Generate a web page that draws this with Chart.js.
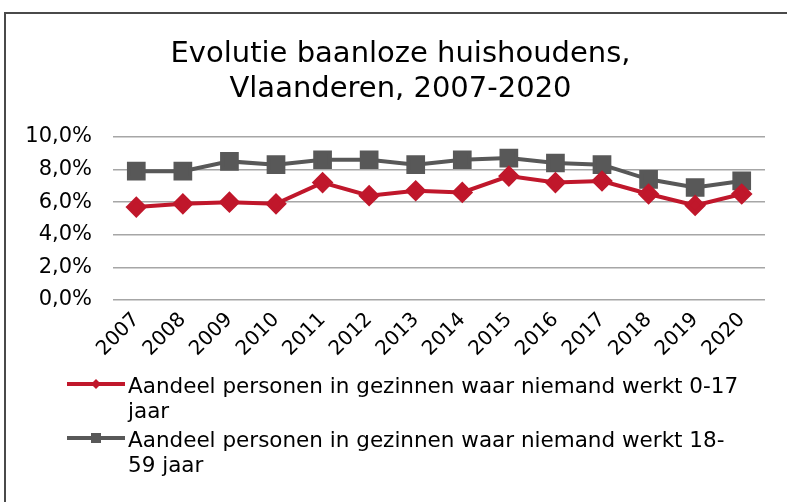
<!DOCTYPE html>
<html>
<head>
<meta charset="utf-8">
<script src="https://cdn.jsdelivr.net/npm/chart.js@4.4.1/dist/chart.umd.min.js"></script>
<style>
  body { margin: 0; background: #fff; }
  #wrap { position: relative; width: 787px; height: 502px; overflow: hidden; }
  #frame { position: absolute; left: 4px; top: 12px; width: 800px; height: 500px;
           border-top: 2px solid #4a4a4a; border-left: 2px solid #4a4a4a; box-sizing: border-box; }
  canvas { position: absolute; left: 0; top: 0; }
  .leg { position: absolute; left: 66px; font-family: "DejaVu Sans", sans-serif;
         font-size: 21.5px; color: #000; line-height: 25px; }
  .leg .txt { position: absolute; left: 62px; top: 0; width: 680px; white-space: nowrap; }
  .leg svg { position: absolute; left: 0; top: 4px; }
</style>
</head>
<body>
<div id="wrap">
  <div id="frame"></div>
  <canvas id="myLineChart" width="787" height="502"></canvas>
  <div class="leg" id="leg1" style="top:373px"></div>
  <div class="leg" id="leg2" style="top:427px"></div>
</div>
<script>
// jaartallen
const jaren = ['2007','2008','2009','2010','2011','2012','2013','2014','2015','2016','2017','2018','2019','2020'];
// 0-17 jaar
const jongeren = [5.7, 5.9, 6.0, 5.9, 7.2, 6.4, 6.7, 6.6, 7.6, 7.2, 7.3, 6.5, 5.8, 6.5];
// 18-59 jaar
const volwassenen = [7.9, 7.9, 8.5, 8.3, 8.6, 8.6, 8.3, 8.6, 8.7, 8.4, 8.3, 7.4, 6.9, 7.3];
// reeksnamen, afgebroken zoals in het origineel
const reeksNamen = [['Aandeel personen in gezinnen waar niemand werkt 0-17', 'jaar'],
                    ['Aandeel personen in gezinnen waar niemand werkt 18-', '59 jaar']];
const titel = ['Evolutie baanloze huishoudens,', 'Vlaanderen, 2007-2020'];

const rood = '#c0172b';
const grijs = '#585858';

// legende in HTML (tekst loopt over twee regels)
function maakLegende(id, naam, kleur, vorm) {
  const el = document.getElementById(id);
  const marker = vorm === 'diamond'
    ? '<polygon points="30,2 35,7 30,12 25,7" fill="' + kleur + '"/>'
    : '<rect x="25" y="2" width="10" height="10" fill="' + kleur + '"/>';
  el.innerHTML = '<svg width="60" height="14"><line x1="1" y1="7" x2="59" y2="7" stroke="' + kleur +
    '" stroke-width="4"/>' + marker + '</svg><div class="txt">' + naam.join('<br>') + '</div>';
}
maakLegende('leg1', reeksNamen[0], rood, 'diamond');
maakLegende('leg2', reeksNamen[1], grijs, 'square');

const ctx = document.getElementById('myLineChart').getContext('2d');
const myChart = new Chart(ctx, {
  type: 'line',
  data: {
    labels: jaren,
    datasets: [{
      label: reeksNamen[0].join(' '),
      data: jongeren,
      borderColor: rood,
      backgroundColor: rood,
      borderWidth: 4,
      pointStyle: 'rectRot',
      pointRadius: 8,
      pointHoverRadius: 8,
      tension: 0
    }, {
      label: reeksNamen[1].join(''),
      data: volwassenen,
      borderColor: grijs,
      backgroundColor: grijs,
      borderWidth: 4,
      pointStyle: 'rect',
      pointRadius: 10.4,
      pointHoverRadius: 10.4,
      tension: 0
    }]
  },
  options: {
    responsive: false,
    animation: false,
    layout: { padding: { left: 14, right: 0, top: 0, bottom: 141 } },
    plugins: {
      legend: { display: false },
      tooltip: { enabled: false },
      title: {
        display: true,
        text: titel,
        color: '#000',
        font: { family: 'DejaVu Sans', size: 29, weight: 'normal', lineHeight: 1.24 },
        padding: { top: 36, bottom: 29 }
      }
    },
    scales: {
      x: {
        offset: true,
        grid: { display: false },
        border: { display: false },
        ticks: {
          color: '#000',
          font: { family: 'DejaVu Sans', size: 20 },
          minRotation: 45,
          maxRotation: 45,
          autoSkip: false,
          padding: 0
        }
      },
      y: {
        min: 0,
        max: 10,
        afterFit: s => { s.width = 99; },
        grid: { color: '#a6a6a6', lineWidth: 1.5, drawTicks: false },
        border: { display: false },
        ticks: {
          stepSize: 2,
          color: '#000',
          padding: 21,
          font: { family: 'DejaVu Sans', size: 21 },
          callback: v => v.toFixed(1).replace('.', ',') + '%'
        }
      },
      // lege as rechts, alleen voor de witruimte naast het plotvlak
      rechts: {
        type: 'linear',
        position: 'right',
        min: 0,
        max: 10,
        afterFit: s => { s.width = 22; },
        grid: { display: false },
        border: { display: false },
        ticks: { display: false }
      }
    }
  }
});
</script>
</body>
</html>
